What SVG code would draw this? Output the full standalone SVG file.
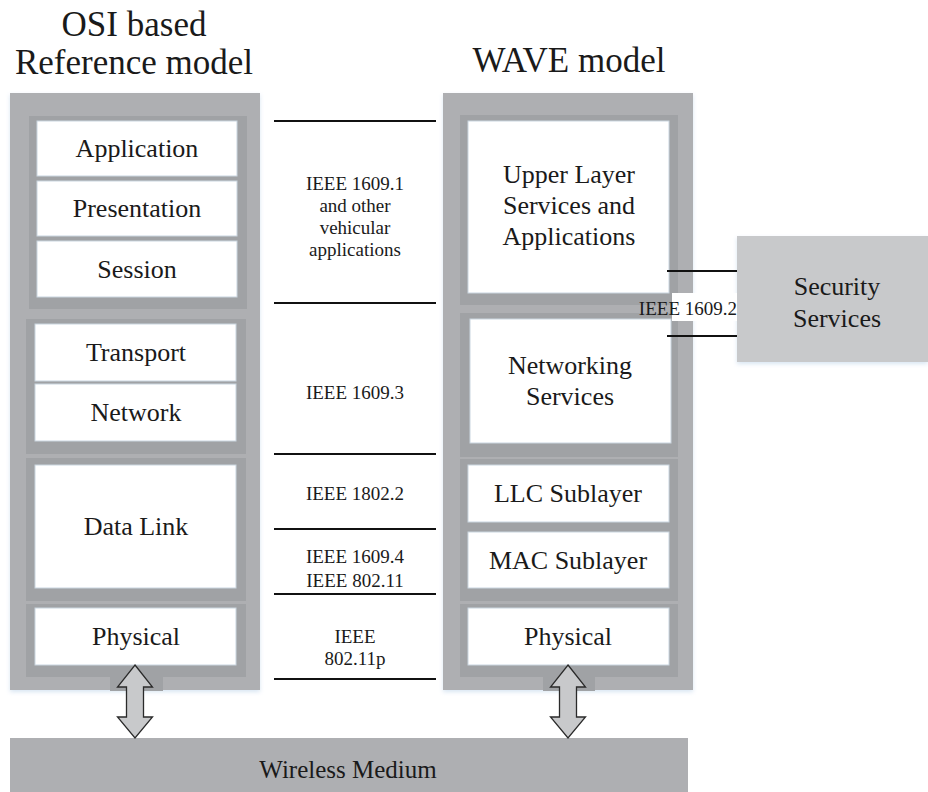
<svg xmlns="http://www.w3.org/2000/svg" width="928" height="792" viewBox="0 0 928 792">
  <defs>
    <filter id="glow" x="-5%" y="-5%" width="110%" height="110%">
      <feDropShadow dx="0" dy="2" stdDeviation="2" flood-color="#a9c8e4" flood-opacity="0.45"/>
    </filter>
    <style>
      text { font-family: "Liberation Serif", "Times New Roman", serif; fill: #1a1a1a; text-anchor: middle; }
      .head { font-size: 35px; }
      .layer { font-size: 26px; }
      .std { font-size: 19px; }
      .outer { fill: #aeafb2; }
      .group { fill: #a0a2a5; }
      .cell { fill: #ffffff; stroke: #c9d5e0; stroke-width: 1; }
      .bar { fill: #aeafb2; }
      .sec { fill: #c8c9cb; }
      .rule { stroke: #111111; stroke-width: 2; fill: none; }
      .arrow { fill: #c8c9cb; stroke: #2a2a2a; stroke-width: 1.3; stroke-linejoin: miter; }
    </style>
  </defs>

  <rect width="928" height="792" fill="#ffffff"/>

  <!-- Column headings -->
  <g id="heading-osi">
    <text class="head" x="134" y="36">OSI based</text>
    <text class="head" x="134" y="74">Reference model</text>
  </g>
  <g id="heading-wave">
    <text class="head" x="569" y="72">WAVE model</text>
  </g>

  <!-- OSI reference model stack -->
  <g id="osi-stack">
    <rect class="outer" x="10" y="93" width="250" height="597" filter="url(#glow)"/>
    <rect class="group" x="110" y="665" width="53" height="26"/>
  </g>
  <g id="osi-upper">
    <rect class="group" x="29" y="116" width="218" height="193"/>
    <g id="osi-application">
      <rect class="cell" x="37" y="121" width="200" height="55"/>
      <text class="layer" x="137" y="157">Application</text>
    </g>
    <g id="osi-presentation">
      <rect class="cell" x="37" y="181" width="200" height="55"/>
      <text class="layer" x="137" y="217">Presentation</text>
    </g>
    <g id="osi-session">
      <rect class="cell" x="37" y="241" width="200" height="56"/>
      <text class="layer" x="137" y="278">Session</text>
    </g>
  </g>
  <g id="osi-middle">
    <rect class="group" x="26" y="319" width="220" height="135"/>
    <g id="osi-transport">
      <rect class="cell" x="35" y="324" width="201" height="57"/>
      <text class="layer" x="136" y="361">Transport</text>
    </g>
    <g id="osi-network">
      <rect class="cell" x="35" y="384" width="201" height="57"/>
      <text class="layer" x="136" y="421">Network</text>
    </g>
  </g>
  <g id="osi-datalink">
    <rect class="group" x="26" y="458" width="220" height="143"/>
    <rect class="cell" x="35" y="465" width="201" height="123"/>
    <text class="layer" x="136" y="535">Data Link</text>
  </g>
  <g id="osi-physical">
    <rect class="group" x="26" y="604" width="220" height="73"/>
    <rect class="cell" x="35" y="608" width="201" height="57"/>
    <text class="layer" x="136" y="645">Physical</text>
  </g>

  <!-- WAVE model stack -->
  <g id="wave-stack">
    <rect class="outer" x="443" y="93" width="250" height="597" filter="url(#glow)"/>
    <rect class="group" x="543" y="665" width="52" height="26"/>
  </g>
  <g id="wave-upper">
    <rect class="group" x="460" y="115" width="218" height="190"/>
    <rect class="cell" x="468" y="121" width="201" height="172"/>
    <text class="layer" x="569" y="183">Upper Layer</text>
    <text class="layer" x="569" y="214">Services and</text>
    <text class="layer" x="569" y="245">Applications</text>
  </g>
  <g id="wave-networking">
    <rect class="group" x="460" y="313" width="218" height="144"/>
    <rect class="cell" x="470" y="319" width="201" height="124"/>
    <text class="layer" x="570" y="374">Networking</text>
    <text class="layer" x="570" y="405">Services</text>
  </g>
  <g id="wave-mac-llc">
    <rect class="group" x="460" y="459" width="218" height="142"/>
    <g id="wave-llc">
      <rect class="cell" x="468" y="465" width="201" height="57"/>
      <text class="layer" x="568" y="502">LLC Sublayer</text>
    </g>
    <g id="wave-mac">
      <rect class="cell" x="468" y="532" width="201" height="56"/>
      <text class="layer" x="568" y="569">MAC Sublayer</text>
    </g>
  </g>
  <g id="wave-physical">
    <rect class="group" x="460" y="604" width="218" height="73"/>
    <rect class="cell" x="468" y="608" width="201" height="57"/>
    <text class="layer" x="568" y="645">Physical</text>
  </g>

  <!-- Security services -->
  <g id="security-services">
    <rect class="sec" x="737" y="236" width="191" height="126" filter="url(#glow)"/>
    <text class="layer" x="837" y="295">Security</text>
    <text class="layer" x="837" y="327">Services</text>
  </g>

  <!-- Wireless medium -->
  <g id="wireless-medium">
    <rect class="bar" x="10" y="738" width="678" height="54"/>
    <text class="layer" x="348" y="778" style="font-size:25px">Wireless Medium</text>
  </g>

  <!-- Standards mapping between the two stacks -->
  <g id="connectors">
    <line class="rule" x1="274" y1="121" x2="436" y2="121"/>
    <line class="rule" x1="274" y1="303" x2="436" y2="303"/>
    <line class="rule" x1="274" y1="454" x2="436" y2="454"/>
    <line class="rule" x1="274" y1="529" x2="436" y2="529"/>
    <line class="rule" x1="274" y1="594" x2="436" y2="594"/>
    <line class="rule" x1="274" y1="679" x2="436" y2="679"/>

    <line class="rule" x1="667" y1="271" x2="737" y2="271"/>
    <line class="rule" x1="667" y1="336" x2="737" y2="336"/>

    <path class="arrow" d="M135,665 L152.5,687 L143.5,687 L143.5,717 L152.5,717 L135,738 L117.5,717 L126.5,717 L126.5,687 L117.5,687 Z"/>
    <path class="arrow" d="M568,665 L585.5,687 L576.5,687 L576.5,717 L585.5,717 L568,738 L550.5,717 L559.5,717 L559.5,687 L550.5,687 Z"/>
  </g>

  <!-- Standard labels -->
  <g id="std-labels">
    <text class="std" x="355" y="190">IEEE 1609.1</text>
    <text class="std" x="355" y="212">and other</text>
    <text class="std" x="355" y="234">vehicular</text>
    <text class="std" x="355" y="256">applications</text>
    <text class="std" x="355" y="399">IEEE 1609.3</text>
    <text class="std" x="355" y="500">IEEE 1802.2</text>
    <text class="std" x="355" y="563">IEEE 1609.4</text>
    <text class="std" x="355" y="587">IEEE 802.11</text>
    <text class="std" x="355" y="643">IEEE</text>
    <text class="std" x="355" y="665">802.11p</text>
    <rect x="672" y="293" width="65" height="28" fill="#ffffff"/>
    <text class="std" x="737" y="315" style="text-anchor:end">IEEE 1609.2</text>
  </g>
</svg>
